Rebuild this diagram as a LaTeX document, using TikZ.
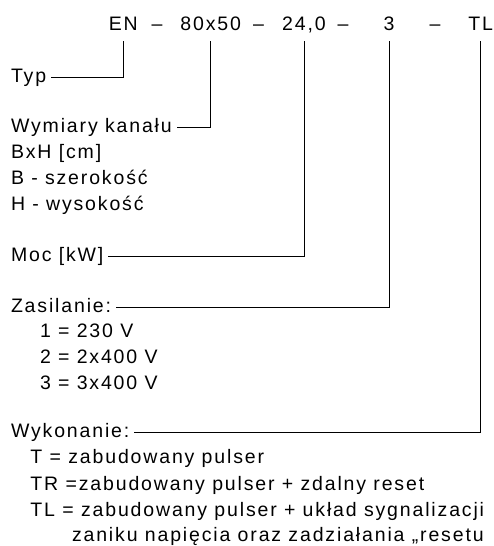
\documentclass[tikz,border=0pt]{standalone}
\usepackage{fontspec}
\setmainfont[LetterSpace=9.5]{Liberation Sans}
\begin{document}
\begin{tikzpicture}[x=1pt,y=-1pt,font=\fontsize{19.5}{26}\selectfont,
  code/.style={anchor=base,inner xsep=0pt,inner ysep=7pt,text height=14pt,text depth=4pt},
  lbl/.style={anchor=base west,inner sep=0pt,outer xsep=5pt,text height=14pt,text depth=4pt},
  lead/.style={line width=0.9pt}]
\useasboundingbox (0,0) rectangle (493,546);

\node[code] (en) at (123.3,30) {EN};
\node[code] (d1) at (157,30) {–};
\node[code] (dim) at (210.7,30) {80x50};
\node[code] (d2) at (258.5,30) {–};
\node[code] (pow) at (304,30) {24,0};
\node[code] (d3) at (343,30) {–};
\node[code] (sup) at (389,30) {3};
\node[code] (d4) at (435,30) {–};
\node[code] (ver) at (480.7,30) {TL};

\node[lbl] (typ) at (6,82) {Typ};
\node[lbl] (wym) at (6,132.5) {Wymiary kanału};
\node[lbl] (bxh) at (6,158) {BxH [cm]};
\node[lbl] (szer) at (6,184) {B - szerokość};
\node[lbl] (wys) at (6,210) {H - wysokość};
\node[lbl] (moc) at (6,261.5) {Moc [kW]};
\node[lbl] (zas) at (6,312.5) {Zasilanie:};
\node[lbl] (z1) at (35,337.7) {1 = 230 V};
\node[lbl] (z2) at (35,363.3) {2 = 2x400 V};
\node[lbl] (z3) at (35,389) {3 = 3x400 V};
\node[lbl] (wyk) at (6,437) {Wykonanie:};
\node[lbl] (wt) at (25.5,463) {T = zabudowany pulser};
\node[lbl] (wtr) at (25.5,490) {TR =zabudowany pulser + zdalny reset};
\node[lbl] (wtl) at (25.5,516) {TL = zabudowany pulser + układ sygnalizacji};
\node[lbl] (wtl2) at (67,541.7) {zaniku napięcia oraz zadziałania „resetu};

\draw[lead] (en.south) |- (typ.east);
\draw[lead] (dim.south) |- (wym.east);
\draw[lead] (pow.south) |- (moc.east);
\draw[lead] (sup.south) |- (zas.east);
\draw[lead] (ver.south) |- (wyk.east);
\end{tikzpicture}
\end{document}
